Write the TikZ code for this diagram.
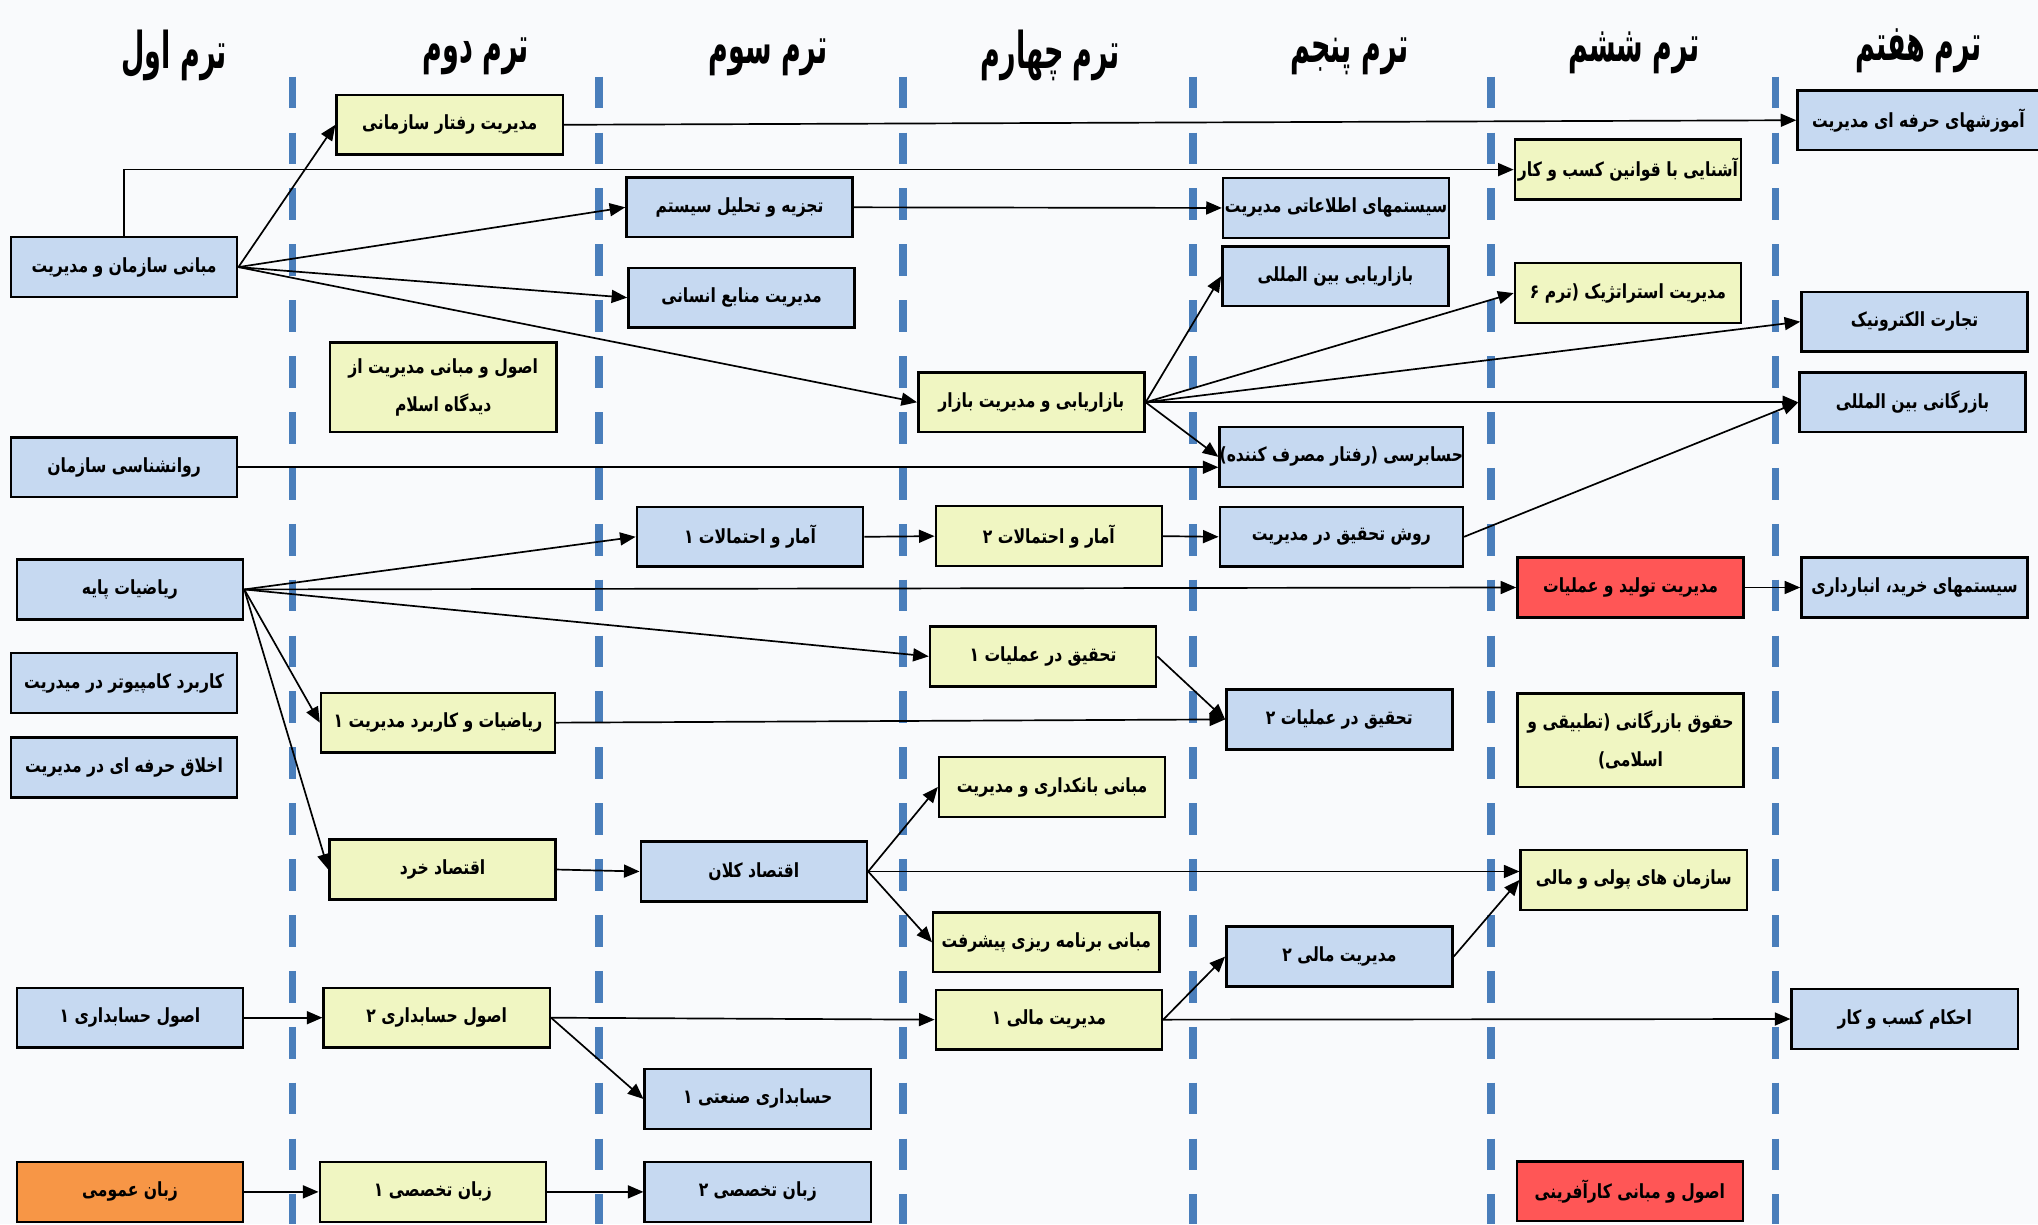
\documentclass[tikz,border=0pt]{standalone}
\usepackage{fontspec}
\usepackage{tikz}
\usetikzlibrary{arrows.meta}
\TeXXeTstate=1
\newfontfamily\farsi[Script=Arabic,FakeStretch=0.8]{DejaVu Sans}
\definecolor{coursebg}{HTML}{F9FAFC}
\definecolor{courseblue}{HTML}{C6D9F1}
\definecolor{courseyellow}{HTML}{F0F6C2}
\definecolor{coursered}{HTML}{FF5656}
\definecolor{courseorange}{HTML}{F79646}
\definecolor{termline}{HTML}{4A7EBB}
\newcommand{\fa}[1]{\beginR #1\endR}

\begin{document}
\begin{tikzpicture}[x=0.5pt,y=-0.5pt,
    coursebox/.style={draw=black,line width=0.95pt,inner sep=0pt,minimum width=87pt,minimum height=23pt,align=center,font=\farsi\bfseries\fontsize{7.5}{14.5}\selectfont},
    bluebox/.style={coursebox,fill=courseblue},
    yellowbox/.style={coursebox,fill=courseyellow},
    redbox/.style={coursebox,fill=coursered},
    orangebox/.style={coursebox,fill=courseorange},
    link/.style={line width=0.65pt,-{Triangle[length=6pt,width=5pt]}},
    termtitle/.style={font=\farsi\bfseries\fontsize{13}{15}\selectfont},
    termsep/.style={termline,line width=3pt,dash pattern=on 12.2pt off 9.3pt}]
        \useasboundingbox (0,0) rectangle (1568,942);
        \fill[coursebg] (0,0) rectangle (1568,942);

        \foreach \x in {225,461,695,918,1147,1366}
            \draw[termsep] (\x,59) -- (\x,942);

        \node[termtitle] (term1) at (134,43) {\scalebox{1}[1.5]{\fa{ترم اول}}};
        \node[termtitle] (term2) at (366,43) {\scalebox{1}[1.5]{\fa{ترم دوم}}};
        \node[termtitle] (term3) at (591,44) {\scalebox{1}[1.5]{\fa{ترم سوم}}};
        \node[termtitle] (term4) at (808,43) {\scalebox{1}[1.5]{\fa{ترم چهارم}}};
        \node[termtitle] (term5) at (1038,43) {\scalebox{1}[1.5]{\fa{ترم پنجم}}};
        \node[termtitle] (term6) at (1257,41) {\scalebox{1}[1.5]{\fa{ترم ششم}}};
        \node[termtitle] (term7) at (1476,39) {\scalebox{1}[1.5]{\fa{ترم هفتم}}};

        \node[bluebox] (orgbasics) at (95.5,205.5) {\fa{مبانی سازمان و مدیریت}};
        \node[bluebox] (orgpsych) at (95.5,359.5) {\fa{روانشناسی سازمان}};
        \node[bluebox] (basicmath) at (100,453.5) {\fa{ریاضیات پایه}};
        \node[bluebox] (computer) at (95.5,525.5) {\fa{کاربرد کامپیوتر در میدریت}};
        \node[bluebox] (ethics) at (95.5,590.5) {\fa{اخلاق حرفه ای در مدیریت}};
        \node[bluebox] (acct1) at (100,783) {\fa{اصول حسابداری ۱}};
        \node[orangebox] (genlang) at (100,917) {\fa{زبان عمومی}};

        \node[yellowbox] (orgbehav) at (346,96) {\fa{مدیریت رفتار سازمانی}};
        \node[yellowbox,minimum height=34.5pt] (islammgmt) at (341,298) {\fa{اصول و مبانی مدیریت از}\\\fa{دیدگاه اسلام}};
        \node[yellowbox,minimum width=90pt] (mathmgmt) at (337,556) {\fa{ریاضیات و کاربرد مدیریت ۱}};
        \node[yellowbox] (microecon) at (340.5,669) {\fa{اقتصاد خرد}};
        \node[yellowbox] (acct2) at (336,783) {\fa{اصول حسابداری ۲}};
        \node[yellowbox] (esp1) at (333,917) {\fa{زبان تخصصی ۱}};

        \node[bluebox] (sysanalysis) at (569,159.5) {\fa{تجزیه و تحلیل سیستم}};
        \node[bluebox] (hrm) at (570.5,229) {\fa{مدیریت منابع انسانی}};
        \node[bluebox] (stat1) at (577,413) {\fa{آمار و احتمالات ۱}};
        \node[bluebox] (macroecon) at (580,670.5) {\fa{اقتصاد کلان}};
        \node[bluebox] (costacct) at (583,845.5) {\fa{حسابداری صنعتی ۱}};
        \node[bluebox] (esp2) at (583,917) {\fa{زبان تخصصی ۲}};

        \node[yellowbox] (marketing) at (793.5,309.5) {\fa{بازاریابی و مدیریت بازار}};
        \node[yellowbox] (stat2) at (807,412.5) {\fa{آمار و احتمالات ۲}};
        \node[yellowbox] (or1) at (802.5,505) {\fa{تحقیق در عملیات ۱}};
        \node[yellowbox] (banking) at (809.5,605.5) {\fa{مبانی بانکداری و مدیریت}};
        \node[yellowbox] (planning) at (805,725) {\fa{مبانی برنامه ریزی پیشرفت}};
        \node[yellowbox] (fin1) at (807,784.5) {\fa{مدیریت مالی ۱}};

        \node[bluebox] (mis) at (1028,160) {\fa{سیستمهای اطلاعاتی مدیریت}};
        \node[bluebox] (intmarketing) at (1027.5,212.5) {\fa{بازاریابی بین المللی}};
        \node[bluebox,minimum width=93.5pt] (audit) at (1032,351.5) {\fa{حسابرسی (رفتار مصرف کننده)}};
        \node[bluebox,minimum width=93.5pt] (resmethod) at (1032,413) {\fa{روش تحقیق در مدیریت}};
        \node[bluebox] (or2) at (1030.5,553.5) {\fa{تحقیق در عملیات ۲}};
        \node[bluebox] (fin2) at (1030.5,736) {\fa{مدیریت مالی ۲}};

        \node[yellowbox] (bizlaw) at (1252.5,130.5) {\fa{آشنایی با قوانین کسب و کار}};
        \node[yellowbox] (strategy) at (1252.5,225.5) {\fa{مدیریت استراتژیک (ترم ۶}};
        \node[redbox] (prodops) at (1254.5,452) {\fa{مدیریت تولید و عملیات}};
        \node[yellowbox,minimum height=36pt] (commlaw) at (1254.5,569.5) {\fa{حقوق بازرگانی (تطبیقی و}\\\fa{اسلامی)}};
        \node[yellowbox] (monetary) at (1257,677) {\fa{سازمان های پولی و مالی}};
        \node[redbox] (entrepreneur) at (1254,916.5) {\fa{اصول و مبانی کارآفرینی}};

        \node[bluebox,minimum width=93pt] (training) at (1476,92.5) {\fa{آموزشهای حرفه ای مدیریت}};
        \node[bluebox] (ecommerce) at (1473,247.5) {\fa{تجارت الکترونیک}};
        \node[bluebox] (inttrade) at (1471.5,309.5) {\fa{بازرگانی بین المللی}};
        \node[bluebox] (purchasing) at (1473,452) {\fa{سیستمهای خرید، انبارداری}};
        \node[bluebox] (bizrules) at (1465.5,784) {\fa{احکام کسب و کار}};

        \draw[link] (orgbasics.east) -- (orgbehav.west);
        \draw[link] (orgbasics.north) |- (bizlaw.west);
        \draw[link] (orgbasics.east) -- (sysanalysis.west);
        \draw[link] (orgbasics.east) -- (hrm.west);
        \draw[link] (orgbasics.east) -- (marketing.west);
        \draw[link] (orgbehav.east) -- (training.west);
        \draw[link] (sysanalysis.east) -- (mis.west);
        \draw[link] (orgpsych.east) -- (orgpsych.east -| audit.west);
        \draw[link] (marketing.east) -- (intmarketing.west);
        \draw[link] (marketing.east) -- (strategy.west);
        \draw[link] (marketing.east) -- (ecommerce.west);
        \draw[link] (marketing.east) -- (inttrade.west);
        \draw[link] (marketing.east) -- (audit.west);
        \draw[link] (stat1.east) -- (stat2.west);
        \draw[link] (stat2.east) -- (resmethod.west);
        \draw[link] (resmethod.east) -- (inttrade.west);
        \draw[link] (basicmath.east) -- (stat1.west);
        \draw[link] (basicmath.east) -- (prodops.west);
        \draw[link] (basicmath.east) -- (or1.west);
        \draw[link] (basicmath.east) -- (mathmgmt.west);
        \draw[link] (basicmath.east) -- (microecon.west);
        \draw[link] (mathmgmt.east) -- (or2.west);
        \draw[link] (or1.east) -- (or2.west);
        \draw[link] (microecon.east) -- (macroecon.west);
        \draw[link] (macroecon.east) -- (banking.west);
        \draw[link] (macroecon.east) -- (macroecon.east -| monetary.west);
        \draw[link] (macroecon.east) -- (planning.west);
        \draw[link] (fin2.east) -- (monetary.west);
        \draw[link] (fin1.east) -- (fin2.west);
        \draw[link] (fin1.east) -- (bizrules.west);
        \draw[link] (acct1.east) -- (acct2.west);
        \draw[link] (acct2.east) -- (fin1.west);
        \draw[link] (acct2.east) -- (costacct.west);
        \draw[link] (genlang.east) -- (esp1.west);
        \draw[link] (esp1.east) -- (esp2.west);
        \draw[link] (prodops.east) -- (purchasing.west);
    \end{tikzpicture}
\end{document}
